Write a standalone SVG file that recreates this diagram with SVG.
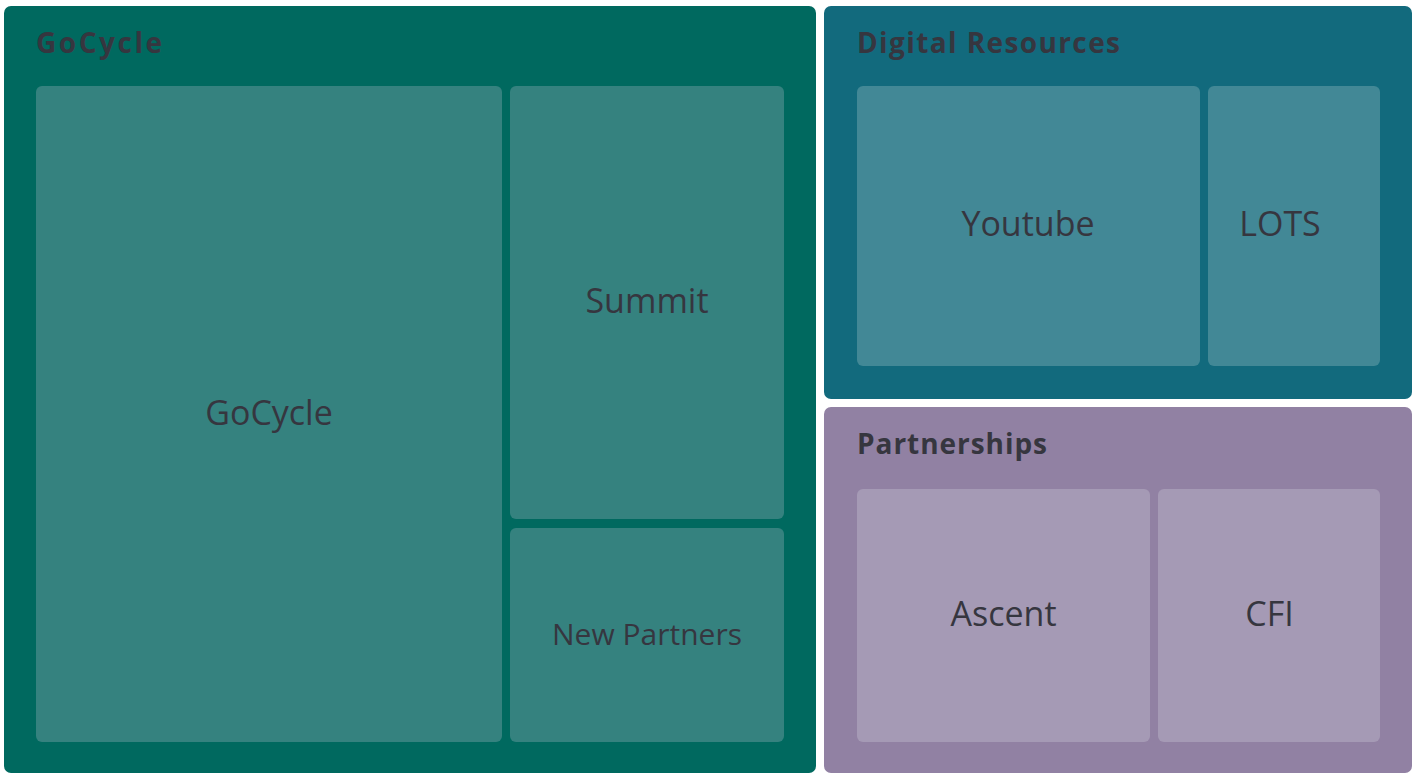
<svg xmlns="http://www.w3.org/2000/svg" width="1418" height="774" viewBox="0 0 1418 774">
  <style>
    .title { font-family: "Open Sans", Lato, sans-serif; font-weight: 700; font-size: 28px; fill: #36363f; }
    .label { font-family: "Open Sans", Lato, sans-serif; font-weight: 400; font-size: 34px; fill: #36363f; text-anchor: middle; }
    .small { font-size: 30px; }
    .g1 { fill: #00695f; } .g1c { fill: #35827f; }
    .g2 { fill: #126a7d; } .g2c { fill: #428896; }
    .g3 { fill: #9181a3; } .g3c { fill: #a59ab5; }
  </style>
  <rect width="1418" height="774" fill="#ffffff"/>

  <g id="group-gocycle">
    <rect class="g1" x="4" y="6" width="812" height="767" rx="7"/>
    <text class="title" x="36" y="53" textLength="126">GoCycle</text>
  </g>
  <g id="node-gocycle">
    <rect class="g1c" x="36" y="86" width="466" height="656" rx="6"/>
    <text class="label" x="269" y="425">GoCycle</text>
  </g>
  <g id="node-summit">
    <rect class="g1c" x="510" y="86" width="274" height="433" rx="6"/>
    <text class="label" x="647" y="313">Summit</text>
  </g>
  <g id="node-new-partners">
    <rect class="g1c" x="510" y="528" width="274" height="214" rx="6"/>
    <text class="label small" x="647" y="645">New Partners</text>
  </g>

  <g id="group-digital">
    <rect class="g2" x="824" y="6" width="588" height="393" rx="7"/>
    <text class="title" x="857" y="53" textLength="263">Digital Resources</text>
  </g>
  <g id="node-youtube">
    <rect class="g2c" x="857" y="86" width="343" height="280" rx="6"/>
    <text class="label" x="1028" y="236">Youtube</text>
  </g>
  <g id="node-lots">
    <rect class="g2c" x="1208" y="86" width="172" height="280" rx="6"/>
    <text class="label" x="1280" y="236">LOTS</text>
  </g>

  <g id="group-partnerships">
    <rect class="g3" x="824" y="407" width="588" height="366" rx="7"/>
    <text class="title" x="857" y="454" textLength="190">Partnerships</text>
  </g>
  <g id="node-ascent">
    <rect class="g3c" x="857" y="489" width="293" height="253" rx="6"/>
    <text class="label" x="1003.5" y="626">Ascent</text>
  </g>
  <g id="node-cfi">
    <rect class="g3c" x="1158" y="489" width="222" height="253" rx="6"/>
    <text class="label" x="1269.5" y="626">CFI</text>
  </g>

  <g id="connectors"/>
</svg>
